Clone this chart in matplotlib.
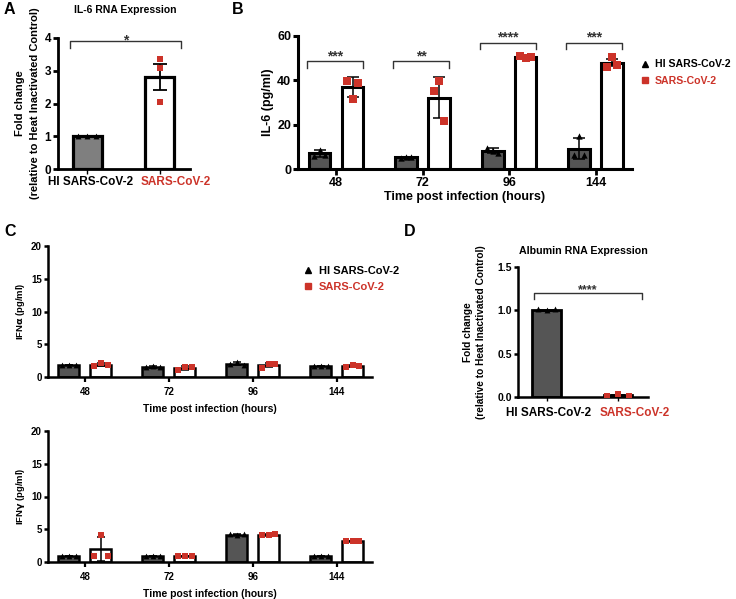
import numpy as np
import matplotlib
matplotlib.use("Agg")
import matplotlib.pyplot as plt
import matplotlib.transforms as mtransforms
from matplotlib.lines import Line2D

plt.rcParams['font.family'] = ['Liberation Sans', 'DejaVu Sans']
plt.rcParams['font.weight'] = 'bold'
plt.rcParams['axes.labelweight'] = 'bold'

RED = '#cc3329'
DARK = '#555555'

groups = ['HI SARS-CoV-2', 'SARS-CoV-2']
hours = ['48', '72', '96', '144']

# A - IL-6 RNA fold change
il6rna_mean = [1.0, 2.8]
il6rna_err = [0.0, 0.4]
il6rna_hi_pts = [1.0, 1.0, 1.0]
il6rna_sars_pts = [3.36, 3.08, 2.04]

# B - IL-6 protein (pg/ml)
il6_hi_mean = [7.0, 5.3, 8.2, 9.2]
il6_hi_err = [1.7, 0.3, 1.2, 4.7]
il6_hi_pts = [[5.7, 8.7, 6.4], [5.0, 5.6, 5.2], [9.4, 8.0, 7.2], [6.5, 14.7, 6.5]]
il6_sars_mean = [36.9, 32.2, 50.5, 47.9]
il6_sars_err = [4.4, 9.3, 0.8, 1.6]
il6_sars_pts = [[39.9, 31.8, 39.0], [35.0, 39.9, 21.8], [51.0, 50.0, 50.4], [46.2, 50.4, 47.0]]
il6_stars = ['***', '**', '****', '***']
il6_bracket = [48.5, 48.5, 57.0, 57.0]

# C - IFN alpha / gamma (pg/ml)
ifna_hi_mean = [1.83, 1.57, 2.03, 1.7]
ifna_hi_err = [0.06, 0.12, 0.25, 0.03]
ifna_hi_pts = [[1.8, 1.9, 1.8], [1.5, 1.7, 1.5], [2.0, 2.3, 1.8], [1.7, 1.7, 1.7]]
ifna_sars_mean = [1.9, 1.37, 1.85, 1.7]
ifna_sars_err = [0.2, 0.32, 0.35, 0.1]
ifna_sars_pts = [[1.7, 2.1, 1.9], [1.0, 1.6, 1.5], [1.45, 2.05, 2.05], [1.6, 1.8, 1.7]]

ifng_hi_mean = [0.9, 0.9, 4.17, 0.9]
ifng_hi_err = [0.0, 0.0, 0.06, 0.0]
ifng_hi_pts = [[0.9, 0.9, 0.9], [0.9, 0.9, 0.9], [4.2, 4.1, 4.2], [0.9, 0.9, 0.9]]
ifng_sars_mean = [2.0, 0.9, 4.15, 3.2]
ifng_sars_err = [1.8, 0.0, 0.08, 0.0]
ifng_sars_pts = [[0.95, 4.15, 0.95], [0.9, 0.9, 0.9], [4.1, 4.1, 4.25], [3.2, 3.2, 3.2]]

# D - Albumin RNA fold change
alb_mean = [1.0, 0.02]
alb_err = [0.005, 0.006]
alb_hi_pts = [1.01, 1.0, 1.01]
alb_sars_pts = [0.01, 0.03, 0.015]

W, H = 736, 599
fig = plt.figure(figsize=(W / 100, H / 100), dpi=100)


def px_axes(left, top, right, bottom):
    return fig.add_axes([left / W, 1 - bottom / H, (right - left) / W, (bottom - top) / H])


def style(ax, lw, fs, ticklen=3.5):
    for s in ['top', 'right']:
        ax.spines[s].set_visible(False)
    for s in ['left', 'bottom']:
        ax.spines[s].set_linewidth(lw)
    ax.tick_params(axis='both', width=lw, length=ticklen, labelsize=fs, pad=1.5)
    ax.tick_params(axis='x', width=lw * 0.6)


def bracket(ax, x1, x2, y, d, text, fs, lift=1):
    ax.plot([x1, x1, x2, x2], [y - d, y, y, y - d], color='#333333', lw=1.0, clip_on=False)
    ax.annotate(text, ((x1 + x2) / 2, y), xytext=(0, lift), textcoords='offset points',
                ha='center', va='baseline', fontsize=fs, color='#333333')


def shift_labels(ax, shifts):
    for lab, dx in zip(ax.get_xticklabels(), shifts):
        off = mtransforms.ScaledTranslation(dx / 100, 0, fig.dpi_scale_trans)
        lab.set_transform(lab.get_transform() + off)


def two_bar(ax, mean, err, hi_pts, sars_pts, hi_color, sars_spread, lw, fs):
    x = np.arange(2)
    ax.bar(x, mean, 0.4, color=[hi_color, 'white'], edgecolor='k', linewidth=lw, zorder=2)
    ax.errorbar(x, mean, yerr=err, fmt='none', ecolor='k', elinewidth=1.3, capsize=5, capthick=1.3, zorder=3)
    ax.scatter(x[0] + np.array([-0.12, 0, 0.12]), hi_pts, marker='^', color='k', s=18, linewidths=0, zorder=4)
    ax.scatter(x[1] + np.array([-1, 0, 1]) * sars_spread, sars_pts, marker='s', color=RED, s=22,
               linewidths=0, zorder=4)
    ax.set_xticks(x)
    ax.set_xticklabels(groups, fontsize=fs)
    ax.get_xticklabels()[1].set_color(RED)
    ax.set_xlim(-0.4, 1.42)


def grouped(ax, hm, he, hp, sm, se, sp, lw, ms, spread, cap):
    x = np.arange(len(hours))
    for sign, mean, err, pts, fc, mk, col, s in [(-1, hm, he, hp, DARK, '^', 'k', ms * 0.8),
                                                 (1, sm, se, sp, 'white', 's', RED, ms)]:
        xs = x + sign * 0.19
        ax.bar(xs, mean, 0.25, color=fc, edgecolor='k', linewidth=lw, zorder=2)
        ax.errorbar(xs, mean, yerr=err, fmt='none', ecolor='k', elinewidth=1.1, capsize=cap,
                    capthick=1.1, zorder=3)
        for i in range(len(x)):
            ax.scatter(xs[i] + np.array([-spread, 0, spread]), pts[i], marker=mk, color=col, s=s,
                       linewidths=0, zorder=4)
    ax.set_xticks(x)
    ax.set_xticklabels(hours)
    ax.set_xlim(-0.44, 3.42)


def legend(ax, x, y, fs, ms):
    leg = ax.legend([Line2D([], [], marker='^', color='k', ls='none', ms=ms),
                     Line2D([], [], marker='s', color=RED, ls='none', ms=ms + 0.5)],
                    groups, loc='upper left', bbox_to_anchor=(x / W, 1 - y / H),
                    bbox_transform=fig.transFigure, frameon=False, fontsize=fs,
                    handletextpad=0.5, labelspacing=0.6, handlelength=1.0, borderpad=0)
    leg.get_texts()[1].set_color(RED)


# ---- A
axA = px_axes(58, 38, 190, 169)
two_bar(axA, il6rna_mean, il6rna_err, il6rna_hi_pts, il6rna_sars_pts, '#7f7f7f', 0.0, 2.3, 8.5)
axA.set_ylim(0, 4)
axA.set_yticks([0, 1, 2, 3, 4])
style(axA, 2.0, 8.5)
axA.tick_params(axis='x', width=1.0, labelsize=8.5)
shift_labels(axA, [4, 16])
axA.set_ylabel('Fold change\n(relative to Heat Inactivated Control)', fontsize=8, labelpad=3,
               linespacing=1.6)
bracket(axA, -0.23, 1.29, 3.9, 0.2, '*', 10, lift=-2)

# ---- B
axB = px_axes(298, 36, 632, 169)
grouped(axB, il6_hi_mean, il6_hi_err, il6_hi_pts, il6_sars_mean, il6_sars_err, il6_sars_pts,
        2.2, 26, 0.06, 4)
axB.set_ylim(0, 60)
axB.set_yticks([0, 20, 40, 60])
style(axB, 2.2, 9)
axB.tick_params(axis='x', length=4, width=2.0)
axB.set_ylabel('IL-6 (pg/ml)', fontsize=9, labelpad=2)
axB.set_xlabel('Time post infection (hours)', fontsize=9, labelpad=2)
for i in range(len(hours)):
    bracket(axB, i - 0.34, i + 0.31, il6_bracket[i], 3.0, il6_stars[i], 10, lift=1)
legend(axB, 634, 54, 7.6, 4.2)

# ---- C top / bottom
axC1 = px_axes(48, 246, 372, 377)
axC2 = px_axes(48, 431, 372, 562)
for ax, data, lab in [(axC1, (ifna_hi_mean, ifna_hi_err, ifna_hi_pts, ifna_sars_mean, ifna_sars_err,
                              ifna_sars_pts), r'IFN$\mathbf{\alpha}$ (pg/ml)'),
                      (axC2, (ifng_hi_mean, ifng_hi_err, ifng_hi_pts, ifng_sars_mean, ifng_sars_err,
                              ifng_sars_pts), r'IFN$\mathbf{\gamma}$ (pg/ml)')]:
    grouped(ax, *data, 1.8, 22, 0.08, 3)
    ax.set_ylim(0, 20)
    ax.set_yticks([0, 5, 10, 15, 20])
    style(ax, 1.8, 7, 3)
    ax.tick_params(axis='x', length=3.5, width=1.6, pad=3.5)
    ax.set_ylabel(lab, fontsize=6.8, labelpad=3)
    ax.set_xlabel('Time post infection (hours)', fontsize=7.5, labelpad=5)
legend(axC1, 297, 260, 8, 4)

# ---- D
axD = px_axes(518, 267, 648, 397)
two_bar(axD, alb_mean, alb_err, alb_hi_pts, alb_sars_pts, DARK, 0.16, 2.0, 8.5)
axD.set_ylim(0, 1.5)
axD.set_yticks([0.0, 0.5, 1.0, 1.5])
axD.set_yticklabels(['0.0', '0.5', '1.0', '1.5'])
style(axD, 1.8, 7.5, 3)
axD.tick_params(axis='x', width=1.0, labelsize=8.5, pad=4)
shift_labels(axD, [2, 17])
axD.set_ylabel('Fold change\n(relative to Heat Inactivated Control)', fontsize=7.3, labelpad=8,
               linespacing=1.45)
bracket(axD, -0.18, 1.33, 1.2, 0.07, '****', 9, lift=0)

# titles and panel letters
fig.text(125 / W, 1 - 10 / H, 'IL-6 RNA Expression', ha='center', va='center', fontsize=7.5)
fig.text(583 / W, 1 - 251 / H, 'Albumin RNA Expression', ha='center', va='center', fontsize=7.7)
for lbl, x, y in [('A', 4, 10), ('B', 232, 10), ('C', 4, 232), ('D', 404, 232)]:
    fig.text(x / W, 1 - y / H, lbl, ha='left', va='center', fontsize=11.5, fontweight='bold')

fig.savefig('out.png', dpi=100)
